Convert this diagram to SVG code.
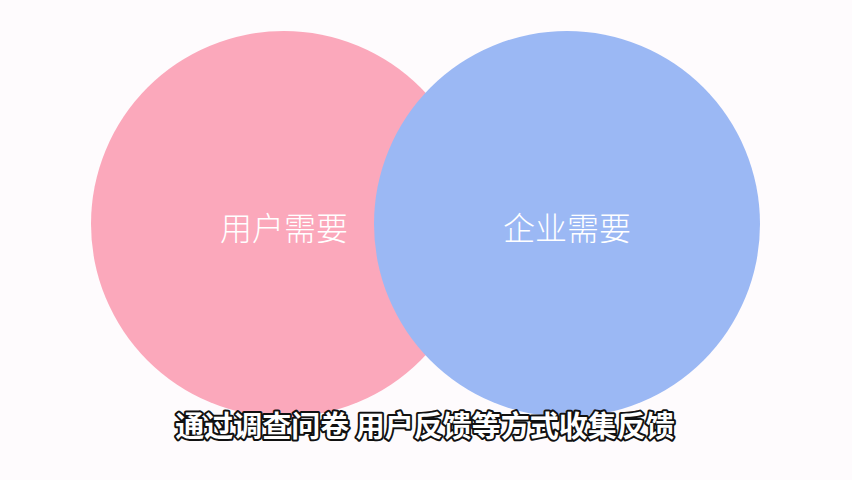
<svg xmlns="http://www.w3.org/2000/svg" width="852" height="480" viewBox="0 0 852 480">
  <style>
    .label { font-family: "Noto Sans CJK SC", "Noto Sans", sans-serif; font-size: 32px; font-weight: 300; fill: #ffffff; text-anchor: middle; }
    .sub { font-family: "Noto Sans CJK SC", "Noto Sans", sans-serif; font-size: 29px; font-weight: 700; fill: #ffffff; stroke: #111111; stroke-width: 4px; stroke-linejoin: round; paint-order: stroke; text-anchor: middle; }
  </style>
  <rect width="852" height="480" fill="#fefbfd"/>
  <g id="user-needs">
    <circle cx="284" cy="224" r="193" fill="#fba8bb"/>
    <text class="label" x="284" y="240">用户需要</text>
  </g>
  <g id="business-needs">
    <circle cx="567" cy="224" r="193" fill="#9bb8f4"/>
    <text class="label" x="567" y="240">企业需要</text>
  </g>
  <g id="connectors"></g>
  <g id="subtitle">
    <text class="sub" x="425" y="437">通过调查问卷 用户反馈等方式收集反馈</text>
  </g>
</svg>
